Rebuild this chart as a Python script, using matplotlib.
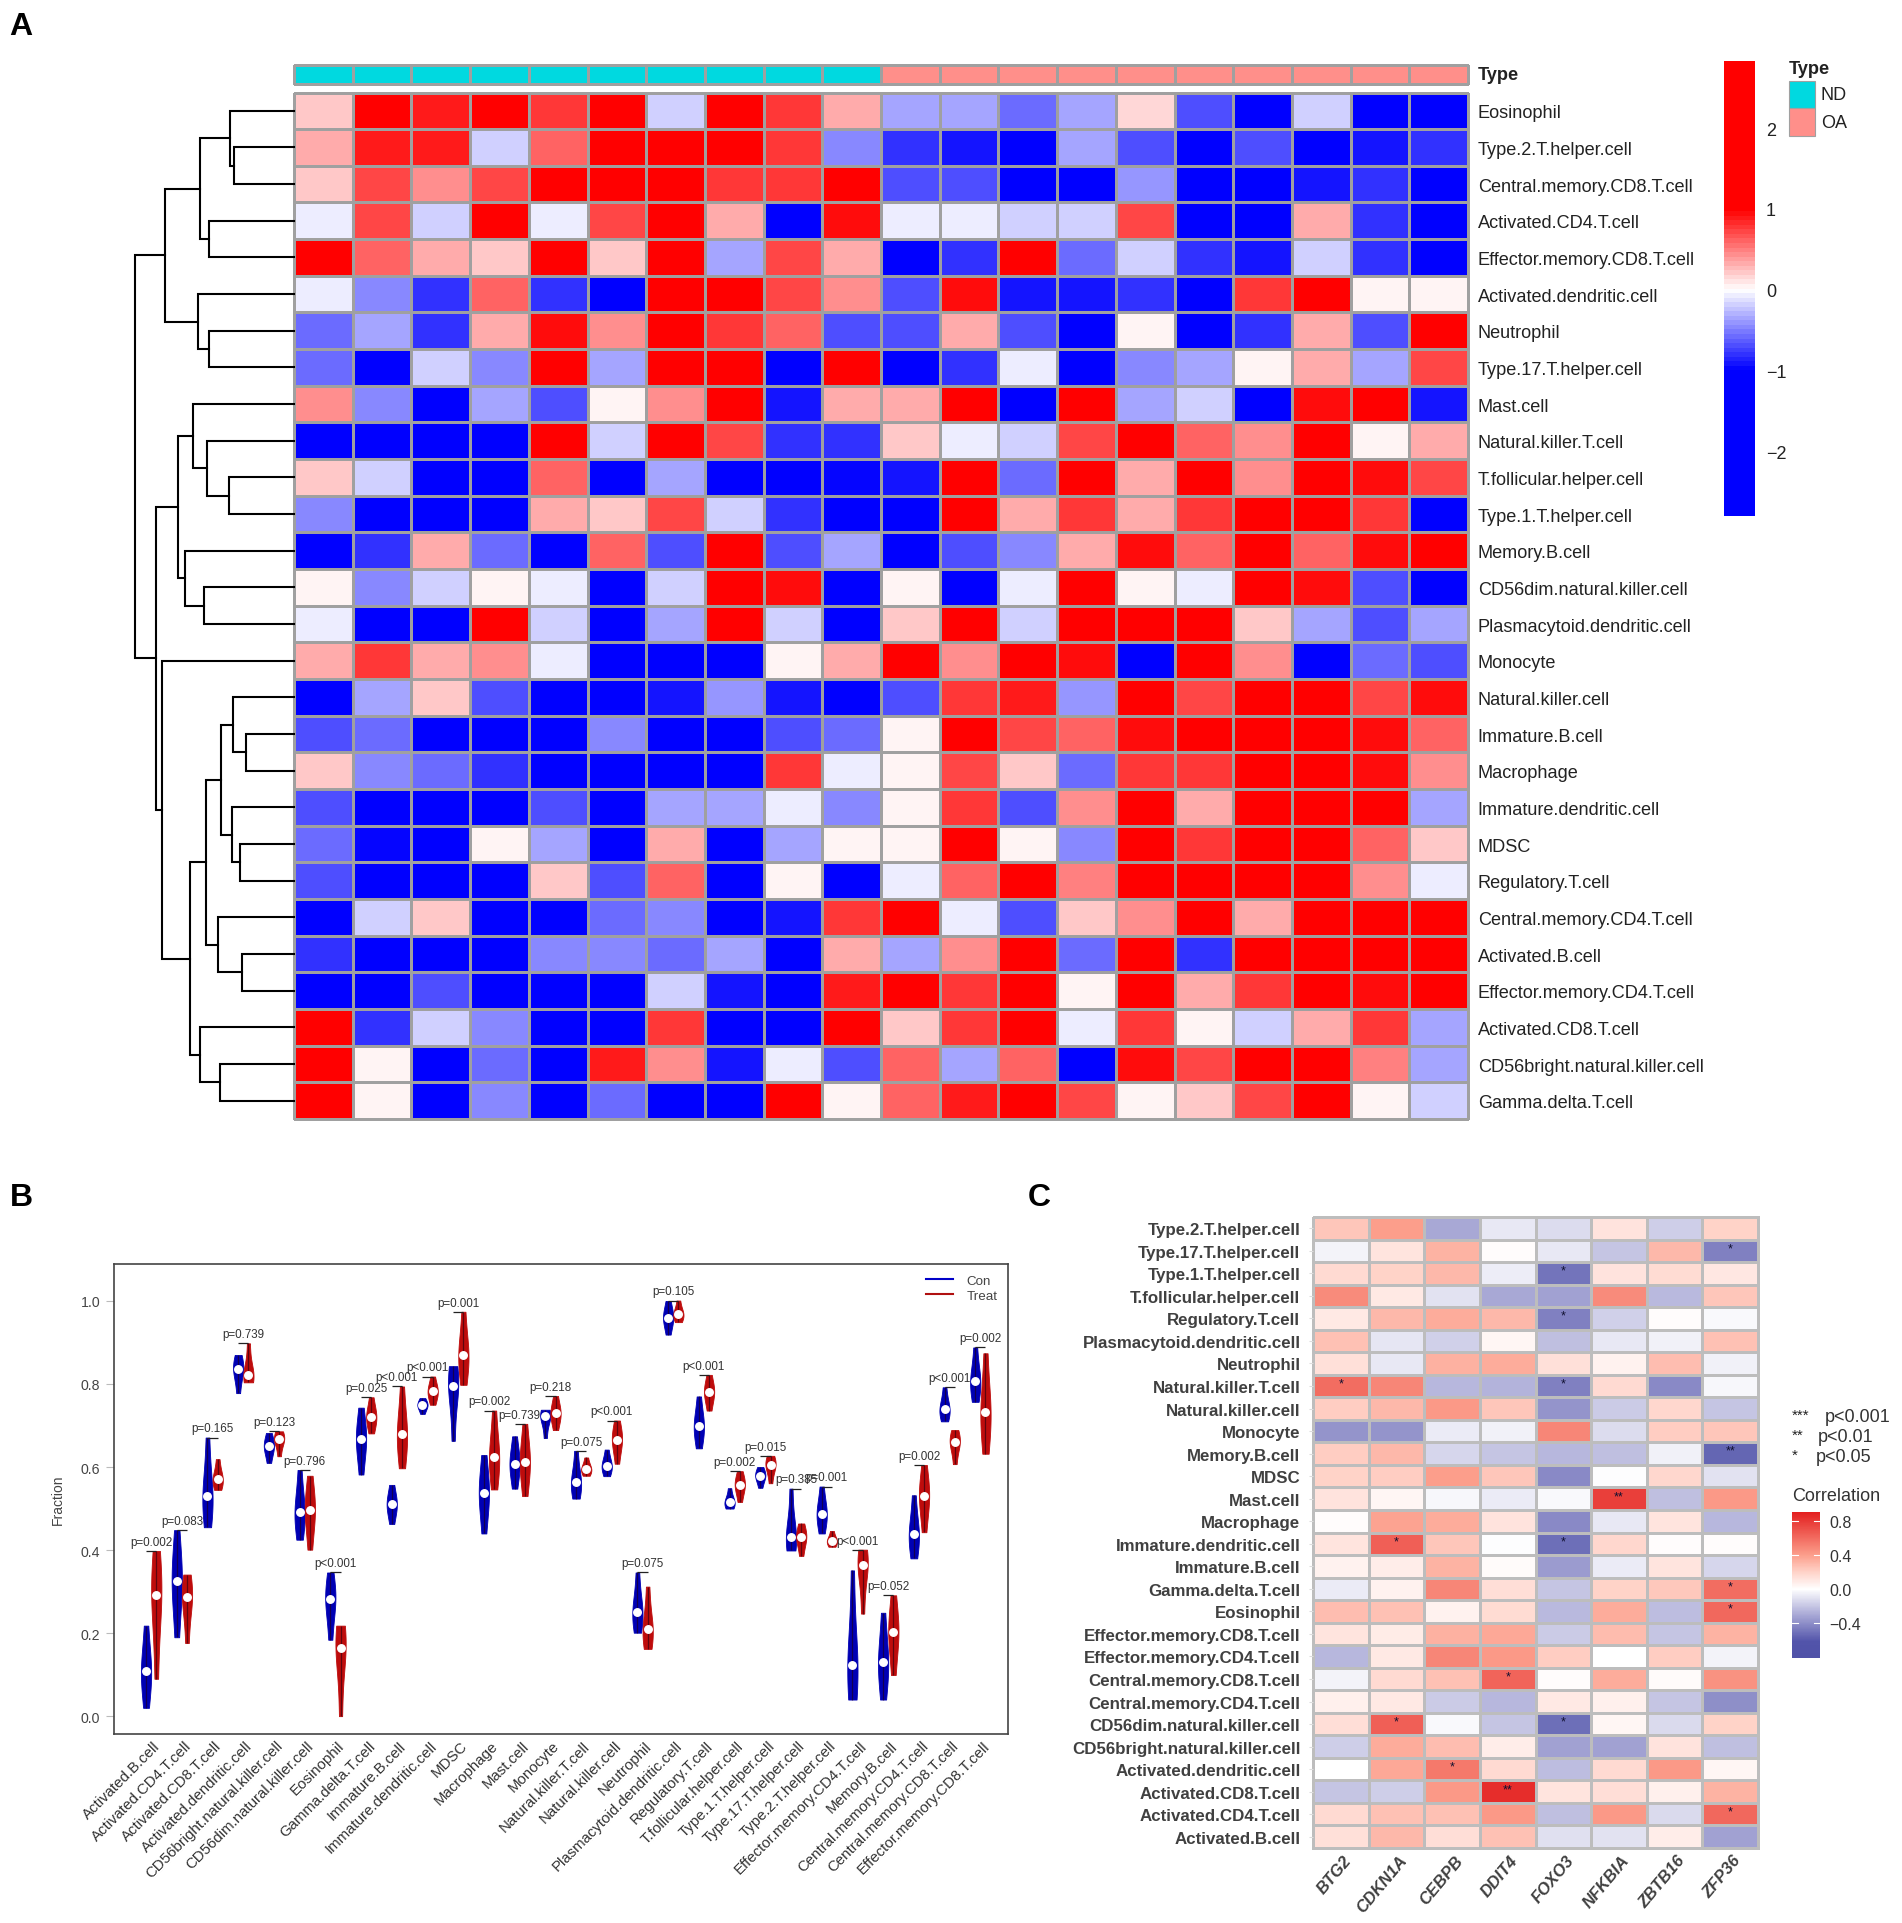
import numpy as np
import matplotlib
matplotlib.use("Agg")
import matplotlib.pyplot as plt
from matplotlib.colors import LinearSegmentedColormap, Normalize, ListedColormap
from matplotlib.cm import ScalarMappable
from matplotlib.patches import Rectangle
from matplotlib.transforms import ScaledTranslation

plt.rcParams['font.family'] = ['Liberation Sans', 'DejaVu Sans']

W, H = 1902, 1924
R = 1.5
B = -1.5

# ---------- Panel A data ----------
rows_a = ["Eosinophil", "Type.2.T.helper.cell", "Central.memory.CD8.T.cell", "Activated.CD4.T.cell",
          "Effector.memory.CD8.T.cell", "Activated.dendritic.cell", "Neutrophil", "Type.17.T.helper.cell",
          "Mast.cell", "Natural.killer.T.cell", "T.follicular.helper.cell", "Type.1.T.helper.cell",
          "Memory.B.cell", "CD56dim.natural.killer.cell", "Plasmacytoid.dendritic.cell", "Monocyte",
          "Natural.killer.cell", "Immature.B.cell", "Macrophage", "Immature.dendritic.cell", "MDSC",
          "Regulatory.T.cell", "Central.memory.CD4.T.cell", "Activated.B.cell", "Effector.memory.CD4.T.cell",
          "Activated.CD8.T.cell", "CD56bright.natural.killer.cell", "Gamma.delta.T.cell"]
heat_a = [
    [.2, R, .9, R, .8, R, -.2, R, .8, .35, -.33, -.33, -.55, -.33, .15, -.67, B, -.2, B, B],
    [.35, .9, .9, -.2, .6, R, R, R, .8, -.45, -.8, -.9, B, -.33, -.67, B, -.67, B, -.9, -.8],
    [.2, .7, .45, .7, R, R, R, .8, .8, R, -.67, -.67, B, B, -.4, B, B, -.9, -.8, B],
    [-.07, .7, -.2, R, -.07, .7, R, .35, B, .95, -.07, -.07, -.2, -.2, .7, B, B, .35, -.8, B],
    [R, .6, .33, .2, R, .2, R, -.33, .7, .35, B, -.8, R, -.55, -.2, -.8, -.9, -.2, -.8, B],
    [-.07, -.45, -.8, .6, -.8, B, R, R, .7, .45, -.67, .95, -.9, -.9, -.8, B, .8, R, .07, .07],
    [-.55, -.33, -.8, .35, .95, .45, R, .8, .6, -.67, -.67, .35, -.67, B, .07, B, -.8, .35, -.67, R],
    [-.6, B, -.2, -.45, R, -.33, R, R, B, R, B, -.8, -.07, B, -.45, -.33, .07, .33, -.33, .7],
    [.45, -.45, B, -.33, -.67, .07, .45, R, -.9, .35, .35, R, B, R, -.33, -.2, B, .95, R, -.9],
    [B, B, B, B, R, -.2, R, .7, -.8, -.8, .2, -.07, -.2, .7, R, .6, .45, R, .07, .35],
    [.2, -.2, B, B, .6, B, -.33, B, B, -.95, -.9, R, -.55, R, .35, R, .45, R, .95, .7],
    [-.45, B, B, B, .35, .2, .7, -.2, -.8, B, B, R, .35, .8, .35, .8, R, R, .8, B],
    [B, -.8, .33, -.55, B, .6, -.67, R, -.67, -.33, B, -.67, -.45, .33, .95, .6, R, .6, .95, R],
    [.07, -.45, -.2, .07, -.07, B, -.2, R, .95, B, .07, B, -.07, R, .07, -.07, R, .95, -.67, B],
    [-.07, B, B, R, -.2, B, -.33, R, -.2, B, .2, R, -.2, R, R, R, .2, -.33, -.67, -.33],
    [.33, .8, .33, .45, -.07, B, B, B, .07, .33, R, .45, R, .95, B, R, .45, B, -.55, -.67],
    [B, -.33, .2, -.67, B, B, -.9, -.4, -.9, B, -.67, .8, .9, -.4, R, .7, R, R, .7, .95],
    [-.67, -.55, B, B, B, -.45, B, B, -.67, -.55, .07, R, .7, .6, .95, R, R, R, .95, .6],
    [.2, -.45, -.55, -.8, B, B, B, B, .8, -.07, .07, .7, .2, -.6, .8, .8, R, R, .95, .45],
    [-.67, B, B, B, -.67, B, -.33, -.33, -.07, -.45, .07, .8, -.67, .45, R, .35, R, R, R, -.33],
    [-.6, -.95, B, .07, -.33, B, .35, B, -.33, .07, .07, R, .07, -.45, R, .8, R, R, .6, .2],
    [-.67, B, B, B, .2, -.67, .6, B, .07, B, -.07, .6, R, .5, R, R, R, R, .45, -.07],
    [B, -.2, .2, B, B, -.55, -.45, B, -.9, .8, R, -.07, -.67, .2, .45, R, .35, R, R, R],
    [-.8, B, B, B, -.45, -.45, -.55, -.33, B, .35, -.33, .45, R, -.55, R, -.8, R, R, R, R],
    [B, B, -.67, B, B, B, -.2, -.9, B, .9, R, .8, R, .07, R, .35, .8, R, .95, R],
    [R, -.8, -.2, -.45, B, B, .8, B, B, R, .2, .8, R, -.07, .8, .07, -.2, .35, .8, -.33],
    [R, .07, B, -.55, B, .9, .45, -.9, -.07, -.67, .6, -.33, .6, B, .95, .7, R, R, .5, -.33],
    [R, .07, B, -.45, B, -.55, B, B, R, .07, .6, .9, R, .7, .07, .2, .7, R, .07, -.2],
]
type_group = [0] * 10 + [1] * 10
type_names = ["ND", "OA"]
type_colors = ["#00D9E0", "#FF8F8A"]
cbar_a_ticks = [-2, -1, 0, 1, 2]
# (height, left, right); integers are row indices
row_tree = (159,
            (129,
             (94, (64, 0, (60, 1, 2)), (85, 3, 4)),
             (96, 5, (85, 6, 7))),
            (138,
             (116,
              (101, 8, (87, 9, (65, 10, 11))),
              (109, 12, (90, 13, 14))),
             (132, 15,
              (104,
               (88,
                (73, (61, 16, (48, 17, 18)), (62, 19, (54, 20, 21))),
                (76, 22, (52, 23, 24))),
               (94, 25, (74, 26, 27))))))

# ---------- Panel B data ----------
cells_b = ["Activated.B.cell", "Activated.CD4.T.cell", "Activated.CD8.T.cell", "Activated.dendritic.cell",
           "CD56bright.natural.killer.cell", "CD56dim.natural.killer.cell", "Eosinophil", "Gamma.delta.T.cell",
           "Immature.B.cell", "Immature.dendritic.cell", "MDSC", "Macrophage", "Mast.cell", "Monocyte",
           "Natural.killer.T.cell", "Natural.killer.cell", "Neutrophil", "Plasmacytoid.dendritic.cell",
           "Regulatory.T.cell", "T.follicular.helper.cell", "Type.1.T.helper.cell", "Type.17.T.helper.cell",
           "Type.2.T.helper.cell", "Effector.memory.CD4.T.cell", "Memory.B.cell", "Central.memory.CD4.T.cell",
           "Central.memory.CD8.T.cell", "Effector.memory.CD8.T.cell"]
con_min = [.02, .19, .455, .778, .61, .425, .184, .582, .463, .728, .663, .44, .548, .67, .524, .578, .201, .919,
           .645, .5, .55, .399, .44, .04, .04, .38, .71, .757]
con_med = [.108, .326, .53, .836, .65, .492, .281, .667, .51, .749, .796, .537, .608, .722, .563, .603, .251, .96,
           .699, .515, .579, .432, .488, .124, .13, .438, .739, .807]
con_max = [.218, .448, .671, .87, .682, .593, .346, .743, .557, .766, .843, .629, .674, .738, .639, .642, .346, 1.0,
           .77, .549, .6, .548, .553, .351, .249, .532, .792, .888]
treat_min = [.09, .176, .545, .804, .626, .401, 0.0, .681, .597, .75, .798, .546, .53, .689, .579, .608, .162, .949,
             .736, .516, .561, .386, .408, .247, .099, .443, .607, .632]
treat_med = [.292, .286, .571, .822, .667, .496, .165, .721, .679, .782, .87, .624, .613, .729, .595, .666, .209, .968,
             .781, .557, .605, .431, .422, .364, .202, .53, .66, .732]
treat_max = [.398, .341, .619, .898, .686, .579, .218, .768, .794, .818, .974, .736, .704, .771, .623, .712, .312, 1.001,
             .822, .59, .627, .464, .446, .401, .291, .605, .689, .874]
p_labels = ["p=0.002", "p=0.083", "p=0.165", "p=0.739", "p=0.123", "p=0.796", "p<0.001", "p=0.025", "p<0.001",
            "p<0.001", "p=0.001", "p=0.002", "p=0.739", "p=0.218", "p=0.075", "p<0.001", "p=0.075", "p=0.105",
            "p<0.001", "p=0.002", "p=0.015", "p=0.385", "p=0.001", "p<0.001", "p=0.052", "p=0.002", "p<0.001",
            "p=0.002"]
yticks_b = [0.0, 0.2, 0.4, 0.6, 0.8, 1.0]

# ---------- Panel C data ----------
rows_c = ["Type.2.T.helper.cell", "Type.17.T.helper.cell", "Type.1.T.helper.cell", "T.follicular.helper.cell",
          "Regulatory.T.cell", "Plasmacytoid.dendritic.cell", "Neutrophil", "Natural.killer.T.cell",
          "Natural.killer.cell", "Monocyte", "Memory.B.cell", "MDSC", "Mast.cell", "Macrophage",
          "Immature.dendritic.cell", "Immature.B.cell", "Gamma.delta.T.cell", "Eosinophil",
          "Effector.memory.CD8.T.cell", "Effector.memory.CD4.T.cell", "Central.memory.CD8.T.cell",
          "Central.memory.CD4.T.cell", "CD56dim.natural.killer.cell", "CD56bright.natural.killer.cell",
          "Activated.dendritic.cell", "Activated.CD8.T.cell", "Activated.CD4.T.cell", "Activated.B.cell"]
genes = ["BTG2", "CDKN1A", "CEBPB", "DDIT4", "FOXO3", "NFKBIA", "ZBTB16", "ZFP36"]
corr = [
    [.25, .4, -.3, -.08, -.12, .13, -.17, .2],
    [-.04, .12, .32, .01, -.08, -.2, .3, -.45],
    [.17, .2, .3, -.06, -.5, .13, .16, .11],
    [.48, .1, -.1, -.3, -.33, .48, -.24, .25],
    [.1, .3, .35, .3, -.45, -.16, .01, -.02],
    [.27, -.09, -.16, .04, -.22, -.08, -.05, .27],
    [.14, -.08, .33, .35, .14, .06, .28, -.05],
    [.6, .5, -.25, -.26, -.45, .17, -.42, -.03],
    [.22, .3, .42, .25, -.38, -.18, .18, -.2],
    [-.38, -.38, -.07, -.05, .5, -.12, .22, .25],
    [.22, .3, -.14, -.2, -.25, -.22, -.05, -.55],
    [.2, .22, .4, .25, -.42, -.01, .18, -.1],
    [.13, .04, -.03, -.07, -.02, .78, -.22, .42],
    [.01, .38, .35, .13, -.42, -.08, .12, -.25],
    [.12, .65, .25, -.01, -.52, .18, .01, .01],
    [.06, .08, .32, .02, -.35, -.07, .12, -.14],
    [-.07, .06, .5, .15, -.2, .2, .24, .6],
    [.28, .27, .06, .16, -.24, .35, -.23, .62],
    [.12, .09, .33, .36, -.18, .29, -.2, .32],
    [-.25, .1, .5, .42, .22, .0, .22, -.04],
    [-.04, .17, .27, .63, .01, .35, .02, .45],
    [.07, .1, -.18, -.25, .1, .07, -.2, -.4],
    [.15, .65, -.02, -.2, -.52, .04, -.13, .2],
    [-.17, .35, .28, .08, -.33, -.33, .13, -.22],
    [.0, .36, .55, .17, -.23, .17, .42, .04],
    [-.2, -.17, .42, .85, .12, .15, .07, .32],
    [.17, .27, .27, .42, -.22, .42, -.13, .62],
    [.14, .3, .15, .27, -.11, -.1, .08, -.33],
]
# (row, column, stars)
stars = [(1, 7, "*"), (2, 4, "*"), (4, 4, "*"), (7, 0, "*"), (7, 4, "*"), (10, 7, "**"), (12, 5, "**"),
         (14, 1, "*"), (14, 4, "*"), (16, 7, "*"), (17, 7, "*"), (20, 3, "*"), (22, 1, "*"), (22, 4, "*"),
         (24, 2, "*"), (25, 3, "**"), (26, 7, "*")]
cbar_c_ticks = [-0.4, 0.0, 0.4, 0.8]
sig_key = [("***", "p<0.001"), ("**", "p<0.01"), ("*", "p<0.05")]

# ---------- Figure ----------
fig = plt.figure(figsize=(W / 100, H / 100), dpi=100, facecolor="white")


def axpx(l, t, r, b, **kw):
    return fig.add_axes([l / W, 1 - b / H, (r - l) / W, (b - t) / H], **kw)


def shift_labels(labels, dx_px, dy_px):
    off = ScaledTranslation(dx_px / 100, dy_px / 100, fig.dpi_scale_trans)
    for lab in labels:
        lab.set_transform(lab.get_transform() + off)


over = axpx(0, 0, W, H, zorder=10)
over.set_xlim(0, W)
over.set_ylim(H, 0)
over.axis("off")
over.patch.set_alpha(0)

for s, x, y in [("A", 9, 27), ("B", 10, 1198), ("C", 1028, 1198)]:
    over.text(x, y, s, fontsize=23, fontweight="bold", ha="left", va="center", color="black")

# Panel A -------------------------------------------------
AL, AT, AR, AB = 294, 93.5, 1468, 1120
GRID_A = "#A0A0A0"
vmin_a, vmax_a = -2.8, 2.83
span = vmax_a - vmin_a
cmap_a = LinearSegmentedColormap.from_list(
    "bwr_sat",
    [(0, "#0000FF"), ((-1 - vmin_a) / span, "#0000FF"), ((0 - vmin_a) / span, "#FFFFFF"),
     ((1 - vmin_a) / span, "#FF0000"), (1, "#FF0000")], N=100)
norm_a = Normalize(vmin_a, vmax_a)

ax = axpx(AL, AT, AR, AB)
ax.pcolormesh(np.array(heat_a), cmap=cmap_a, norm=norm_a, edgecolors=GRID_A, linewidth=0.8, clip_on=False)
ax.set_xlim(0, 20)
ax.set_ylim(len(rows_a), 0)
ax.set_xticks([])
ax.yaxis.tick_right()
ax.set_yticks(np.arange(len(rows_a)) + 0.5)
ax.set_yticklabels(rows_a, fontsize=13.1, color="#222222")
ax.tick_params(axis="y", length=0, pad=7)
for s in ax.spines.values():
    s.set_visible(False)

ax = axpx(AL, 65.5, AR, 85)
ax.pcolormesh(np.array([type_group]), cmap=ListedColormap(type_colors), vmin=0, vmax=1,
              edgecolors=GRID_A, linewidth=0.8, clip_on=False)
ax.set_xticks([])
ax.set_yticks([])
for s in ax.spines.values():
    s.set_visible(False)
over.text(1478, 75, "Type", fontsize=13.1, fontweight="bold", va="center", color="#222222")

# dendrogram
ax = axpx(130, AT, AL, AB)
ax.set_xlim(164, 0)
ax.set_ylim(len(rows_a), 0)
ax.axis("off")


def draw(node):
    if isinstance(node, int):
        return node + 0.5, 0
    h, l, r = node
    yl, hl = draw(l)
    yr, hr = draw(r)
    ax.plot([hl, h, h, hr], [yl, yl, yr, yr], color="black", lw=1.5, solid_joinstyle="miter", clip_on=False)
    return (yl + yr) / 2, h


draw(row_tree)

# colorbar A
cax = axpx(1724, 62, 1755, 517)
cb = fig.colorbar(ScalarMappable(norm=norm_a, cmap=cmap_a), cax=cax)
cb.set_ticks(cbar_a_ticks)
cb.ax.tick_params(length=0, labelsize=13, pad=8, labelcolor="#222222")
cb.outline.set_visible(False)

# Type legend
over.text(1789, 70, "Type", fontsize=13.1, fontweight="bold", va="center", color="#222222")
for i, (nm, col) in enumerate(zip(type_names, type_colors)):
    y0 = 81.5 + 27.5 * i
    over.add_patch(Rectangle((1789, y0), 26, 27.5, facecolor=col, edgecolor=GRID_A, lw=0.8))
    over.text(1821, y0 + 14.5, nm, fontsize=13, va="center", color="#222222")

# Panel B -------------------------------------------------
ax = axpx(114, 1265, 1008, 1735)
ax.set_xlim(-2.13, 85.2)
ax.set_ylim(-0.043, 1.089)
COL_CON, COL_TRT = "#0000B4", "#BE0C0C"
n = len(cells_b)
pos_con = np.arange(n) * 3 + 1
pos_trt = pos_con + 1


def violins(positions, lo, med, hi, color):
    data = [[a, m, m, m, b] for a, m, b in zip(lo, med, hi)]
    parts = ax.violinplot(data, positions=positions, widths=1.0, bw_method=0.85,
                          showextrema=False, showmedians=False)
    for body in parts["bodies"]:
        body.set_facecolor(color)
        body.set_edgecolor(color)
        body.set_linewidth(0.6)
        body.set_alpha(1)
    ax.vlines(positions, lo, hi, color="#200010", lw=0.9, alpha=0.6, zorder=3)
    ax.plot(positions, med, ls="none", marker="o", ms=5.4, mfc="white", mec="white", zorder=4)


violins(pos_con, con_min, con_med, con_max, COL_CON)
violins(pos_trt, treat_min, treat_med, treat_max, COL_TRT)
tops = np.maximum(con_max, treat_max)
ax.hlines(tops, pos_con, pos_trt, color="#222222", lw=0.9)
for x, t, lab in zip(pos_con + 0.5, tops, p_labels):
    ax.text(x, t + 0.022, lab, fontsize=8.4, ha="center", va="center", color="#333333")
ax.set_yticks(yticks_b)
ax.set_yticklabels([f"{v:.1f}" for v in yticks_b], fontsize=10.2, color="#444444")
ax.tick_params(axis="y", length=6, color="#BBBBBB", width=0.8, pad=4)
ax.set_xticks(pos_con + 0.5)
ax.set_xticklabels(cells_b, rotation=45, ha="right", va="top", rotation_mode="anchor",
                   fontsize=10.8, color="#333333")
ax.tick_params(axis="x", length=0, pad=3)
shift_labels(ax.get_xticklabels(), 2, 0)
ax.set_ylabel("Fraction", fontsize=10, color="#444444", labelpad=11)
for s in ax.spines.values():
    s.set_color("#444444")
    s.set_linewidth(1.2)
ax.plot([], [], color="#0000C8", lw=1.5, label="Con")
ax.plot([], [], color="#B01010", lw=1.5, label="Treat")
ax.legend(loc="upper right", frameon=False, fontsize=9.6, handlelength=2.0, labelspacing=0.2,
          borderaxespad=0.4, handletextpad=1.0, labelcolor="#444444")

# Panel C -------------------------------------------------
GRID_C = "#BDBDBD"
vmin_c, vmax_c = -0.81, 0.91
sc = vmax_c - vmin_c
cmap_c = LinearSegmentedColormap.from_list(
    "corr",
    [(0, "#5052A8"), ((-0.62 - vmin_c) / sc, "#5254AA"), ((-0.3 - vmin_c) / sc, "#A9A9D6"),
     ((0 - vmin_c) / sc, "#FFFFFF"), ((0.2 - vmin_c) / sc, "#FFD3C9"), ((0.4 - vmin_c) / sc, "#FC9F8C"),
     (1, "#E31F1F")], N=256)
norm_c = Normalize(vmin_c, vmax_c)
ax = axpx(1313, 1218, 1758, 1849)
ax.pcolormesh(np.array(corr), cmap=cmap_c, norm=norm_c, edgecolors=GRID_C, linewidth=2.0, clip_on=False)
ax.set_xlim(0, len(genes))
ax.set_ylim(len(rows_c), 0)
ax.set_yticks(np.arange(len(rows_c)) + 0.5)
ax.set_yticklabels(rows_c, fontsize=12.2, fontweight="bold", color="#404040")
ax.set_xticks(np.arange(len(genes)) + 0.5)
ax.set_xticklabels(genes, rotation=50, ha="right", va="top", rotation_mode="anchor",
                   fontsize=12, fontweight="bold", fontstyle="italic", color="#404040")
ax.tick_params(axis="y", length=3, color="#DDDDDD", pad=6)
ax.tick_params(axis="x", length=0, pad=3)
shift_labels(ax.get_xticklabels(), 2, 0)
for s in ax.spines.values():
    s.set_visible(False)
for r, c, st in stars:
    ax.text(c + 0.5, r + 0.38, st, fontsize=9, ha="center", va="center", color="#101030")

key_x = [1825, 1818, 1816]
for i, (st, txt) in enumerate(sig_key):
    y = 1418 + 20 * i
    over.text(1792, y - 2, st, fontsize=11, ha="left", va="center", color="#222222")
    over.text(key_x[i], y, txt, fontsize=13, ha="left", va="center", color="#333333")
over.text(1792, 1497, "Correlation", fontsize=13, ha="left", va="center", color="#333333")

cax = axpx(1792, 1513, 1820, 1659)
cb = fig.colorbar(ScalarMappable(norm=norm_c, cmap=cmap_c), cax=cax)
cb.set_ticks(cbar_c_ticks)
cb.set_ticklabels([f"{v:.1f}".replace("-", "\u2212") for v in cbar_c_ticks])
cb.ax.tick_params(length=0, labelsize=11.5, pad=7, labelcolor="#333333")
cb.outline.set_visible(False)
for v in cbar_c_ticks:
    cb.ax.plot([0, 0.2], [v, v], color="white", lw=0.8, transform=cb.ax.get_yaxis_transform())
    cb.ax.plot([0.8, 1], [v, v], color="white", lw=0.8, transform=cb.ax.get_yaxis_transform())

fig.savefig("out.png", dpi=100, facecolor="white")
